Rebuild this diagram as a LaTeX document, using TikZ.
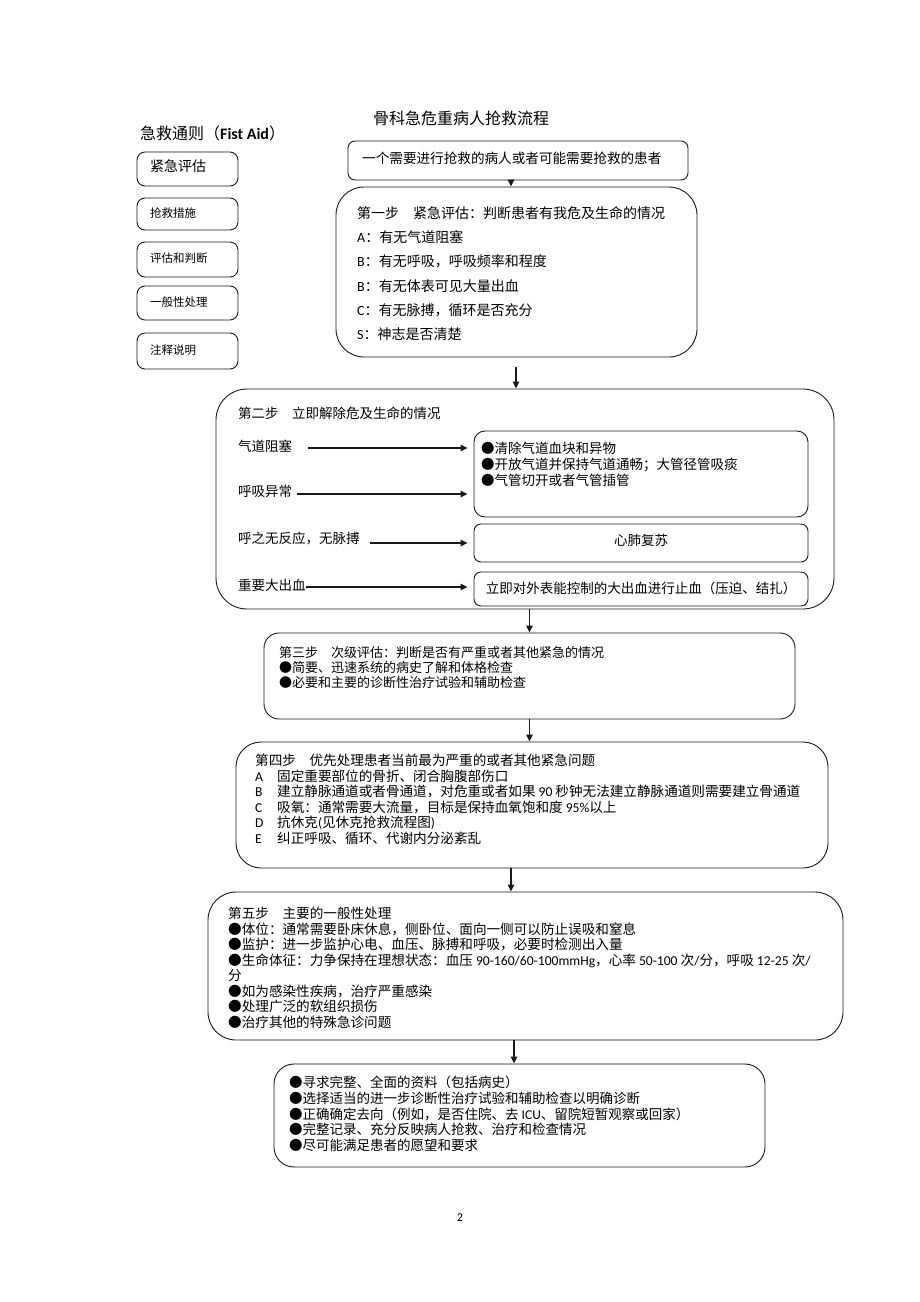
\documentclass[tikz,border=0pt]{standalone}
\usepackage{fontspec}
\setmainfont{Noto Sans CJK SC}
\newfontfamily\lat{Carlito}
\usetikzlibrary{fit,arrows.meta}
\newcommand\La[1]{{\lat #1}}
\newcommand\fs[2]{\fontsize{#1}{#2}\selectfont}
\begin{document}
\begin{tikzpicture}[x=1pt,y=-1pt,
  box/.style={draw=black!90, line width=0.9pt, rounded corners=#1, inner sep=0pt},
  arr/.style={-{Triangle[length=7pt,width=6.5pt]}, line width=1.2pt, draw=black!90},
  txt/.style={inner sep=0pt, anchor=west},
  ml/.style={inner sep=0pt, anchor=north west, align=left},
  ctr/.style={inner sep=0pt}]
\fill[white] (0,0) rectangle (920,1302);
\useasboundingbox (0,0) rectangle (920,1302);

% titles
\node[ctr, font=\fs{16}{18}] (title) at (461,118) {骨科急危重病人抢救流程};
\node[txt, font=\fs{16}{18}] (fa) at (140,133) {急救通则（\textbf{\La{Fist Aid}}）};

% legend boxes
\node[box=8pt, fit={(137,152)(238,186)}] (k1) {};
\node[txt, font=\fs{14}{16}] (k1t) at (150,166) {紧急评估};
\node[box=8pt, fit={(137,198)(238,230)}] (k2) {};
\node[txt, font=\fs{11.5}{13}] (k2t) at (150,213) {抢救措施};
\node[box=8pt, fit={(137,242)(238,277)}] (k3) {};
\node[txt, font=\fs{11.5}{13}] (k3t) at (150,258) {评估和判断};
\node[box=8pt, fit={(137,286)(238,320)}] (k4) {};
\node[txt, font=\fs{11.5}{13}] (k4t) at (150,302) {一般性处理};
\node[box=8pt, fit={(137,333)(238,369)}] (k5) {};
\node[txt, font=\fs{11.5}{13}] (k5t) at (150,350) {注释说明};

% top box
\node[box=7pt, fit={(348,141)(688,180)}] (top) {};
\node[txt, font=\fs{13.6}{16}] (topt) at (362,158) {一个需要进行抢救的病人或者可能需要抢救的患者};

% step 1
\node[box=28pt, fit={(336,187)(697,357)}] (s1) {};
\node[ml, font=\fs{14}{24.2}] (s1t) at (357,206.4) {第一步\hspace{1em}紧急评估：判断患者有我危及生命的情况\\
\La{A}：有无气道阻塞\\
\La{B}：有无呼吸，呼吸频率和程度\\
\La{B}：有无体表可见大量出血\\
\La{C}：有无脉搏，循环是否充分\\
\La{S}：神志是否清楚};

% step 2
\node[box=31pt, fit={(216,389)(834,609)}] (s2) {};
\node[txt, font=\fs{13.5}{16}] (s2h) at (238,413) {第二步\hspace{1em}立即解除危及生命的情况};
\node[txt, font=\fs{13.5}{16}] (l1) at (238,446) {气道阻塞};
\node[txt, font=\fs{13.5}{16}] (l2) at (238,491) {呼吸异常};
\node[txt, font=\fs{13.5}{16}] (l3) at (238,538) {呼之无反应，无脉搏};
\node[txt, font=\fs{13.5}{16}] (l4) at (238,585) {重要大出血};
\node[box=11pt, fit={(474,431)(808,517)}] (bA) {};
\node[box=7pt, fit={(474,524)(808,562)}] (bB) {};
\node[box=7pt, fit={(474,572)(808,606)}] (bC) {};
\node[ml, font=\fs{13.5}{16}] (bAt) at (481,441.7) {●清除气道血块和异物\\
●开放气道并保持气道通畅；大管径管吸痰\\
●气管切开或者气管插管};
\node[ctr, font=\fs{13.5}{16}] (bBt) at (641,540) {心肺复苏};
\node[ctr, font=\fs{13.5}{16}] (bCt) at (641,588) {立即对外表能控制的大出血进行止血（压迫、结扎）};

\coordinate (a1) at ([xshift=16pt,yshift=-2pt]l1.east);
\coordinate (a2) at ([xshift=5pt,yshift=-3pt]l2.east);
\coordinate (a3) at ([xshift=10pt,yshift=-5pt]l3.east);
\coordinate (a4) at ([xshift=0pt,yshift=-2pt]l4.east);
\coordinate (tA) at ([xshift=-6pt]bA.west);
\coordinate (tB) at ([xshift=-6pt]bB.west);
\coordinate (tC) at ([xshift=-6pt]bC.west);
\draw[arr] (a1) -- (a1 -| tA);
\draw[arr] (a2) -- (a2 -| tA);
\draw[arr] (a3) -- (a3 -| tB);
\draw[arr] (a4) -- (a4 -| tC);

% step 3
\node[box=15pt, fit={(264,633)(795,719)}] (s3) {};
\node[ml, font=\fs{13}{15}] (s3t) at (279,645.9) {第三步\hspace{1em}次级评估：判断是否有严重或者其他紧急的情况\\
●简要、迅速系统的病史了解和体格检查\\
●必要和主要的诊断性治疗试验和辅助检查};

% step 4
\node[box=25pt, fit={(236,742)(828,868)}] (s4) {};
\node[ml, font=\fs{13.6}{15.6}] (s4t) at (255,753.8) {第四步\hspace{1em}优先处理患者当前最为严重的或者其他紧急问题\\
\makebox[22pt][l]{\La{A}}固定重要部位的骨折、闭合胸腹部伤口\\
\makebox[22pt][l]{\La{B}}建立静脉通道或者骨通道，对危重或者如果 \La{90} 秒钟无法建立静脉通道则需要建立骨通道\\
\makebox[22pt][l]{\La{C}}吸氧：通常需要大流量，目标是保持血氧饱和度 \La{95\%}以上\\
\makebox[22pt][l]{\La{D}}抗休克\La{(}见休克抢救流程图\La{)}\\
\makebox[22pt][l]{\La{E}}纠正呼吸、循环、代谢内分泌紊乱};

% step 5
\node[box=28pt, fit={(208,892)(843,1040)}] (s5) {};
\node[ml, font=\fs{13.6}{15.57}] (s5t) at (228,906.8) {第五步\hspace{1em}主要的一般性处理\\
●体位：通常需要卧床休息，侧卧位、面向一侧可以防止误吸和窒息\\
●监护：进一步监护心电、血压、脉搏和呼吸，必要时检测出入量\\
●生命体征：力争保持在理想状态：血压 \La{90-160/60-100mmHg}，心率 \La{50-100} 次\La{/}分，呼吸 \La{12-25} 次\La{/}\\
分\\
●如为感染性疾病，治疗严重感染\\
●处理广泛的软组织损伤\\
●治疗其他的特殊急诊问题};

% final
\node[box=20pt, fit={(274,1064)(765,1167)}] (fin) {};
\node[ml, font=\fs{13.5}{15.75}] (fint) at (289,1075.8) {●寻求完整、全面的资料（包括病史）\\
●选择适当的进一步诊断性治疗试验和辅助检查以明确诊断\\
●正确确定去向（例如，是否住院、去 \La{ICU}、留院短暂观察或回家）\\
●完整记录、充分反映病人抢救、治疗和检查情况\\
●尽可能满足患者的愿望和要求};

% main arrows
\coordinate (c1) at ([xshift=-7pt]top.south);
\draw[arr] (c1) -- (c1 |- s1.north);
\coordinate (c2) at (516,367);
\draw[arr] (c2) -- (c2 |- s2.north);
\draw[arr] (s3.north |- s2.south) -- (s3.north);
\draw[arr] (s3.south) -- (s3.south |- s4.north);
\coordinate (c5) at ([xshift=-21pt]s4.south);
\draw[arr] (c5) -- (c5 |- s5.north);
\coordinate (c6) at ([xshift=-5.5pt]fin.north);
\draw[arr] (c6 |- s5.south) -- (c6);

\node[ctr, font=\lat\fs{12}{14}] (pg) at (460,1218) {2};
\end{tikzpicture}
\end{document}
